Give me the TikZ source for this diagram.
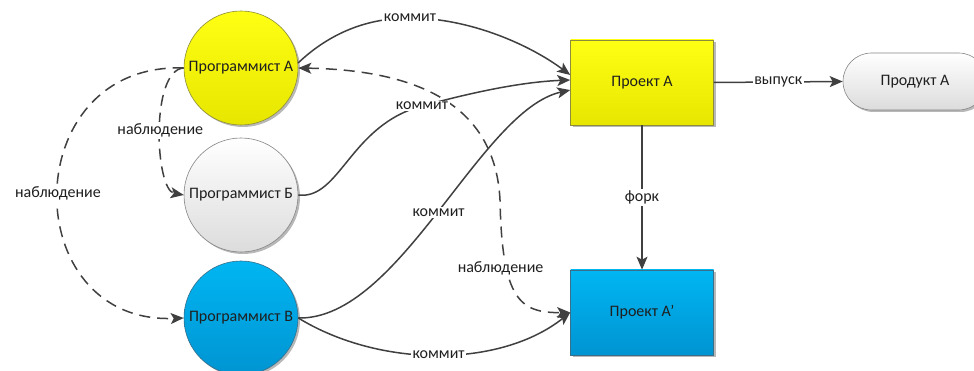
\documentclass[tikz,border=0pt]{standalone}
\usepackage{fontspec}
\setmainfont{Carlito}
\usetikzlibrary{arrows.meta,shadows}
\definecolor{ink}{HTML}{404040}
\definecolor{txt}{HTML}{1F1F1F}
\definecolor{yelTop}{HTML}{FFFF14}
\definecolor{yelBot}{HTML}{E6E600}
\definecolor{yelEdge}{HTML}{8C8C3C}
\definecolor{bluTop}{HTML}{00B6F2}
\definecolor{bluBot}{HTML}{0094D2}
\definecolor{bluEdge}{HTML}{3A6F8A}
\definecolor{gryTop}{HTML}{FFFFFF}
\definecolor{gryBot}{HTML}{DCDCDC}
\definecolor{gryEdge}{HTML}{858585}
\begin{document}
\begin{tikzpicture}[x=1pt,y=-1pt,
  every node/.style={font=\fontsize{16}{19}\selectfont, text=txt},
  soft shadow/.style={drop shadow={opacity=0.28,shadow xshift=2pt,shadow yshift=-2pt,fill=black}},
  dev/.style={circle, minimum size=114pt, inner sep=0pt, line width=0.6pt, soft shadow},
  proj/.style={rectangle, minimum width=143pt, minimum height=85pt, inner sep=0pt, line width=0.6pt, soft shadow},
  prod/.style={rectangle, rounded corners=28.5pt, minimum width=144pt, minimum height=57pt, inner sep=0pt,
    line width=0.6pt, draw=gryEdge, top color=gryTop, bottom color=gryBot, soft shadow},
  yellowfill/.style={draw=yelEdge, top color=yelTop, bottom color=yelBot},
  bluefill/.style={draw=bluEdge, top color=bluTop, bottom color=bluBot},
  greyfill/.style={draw=gryEdge, top color=gryTop, bottom color=gryBot},
  tip/.tip={Stealth[length=13pt,width=11pt,inset=3pt]},
  link/.style={draw=ink, line width=1.5pt, -tip},
  watch/.style={link, dash pattern=on 11pt off 7pt},
  lbl/.style={fill=white, inner sep=1.5pt}
]
\useasboundingbox (0,0) rectangle (974,371);

% developers
\node[dev, yellowfill] (devA) at (241,68) {Программист А};
\node[dev, greyfill]   (devB) at (241,195) {Программист Б};
\node[dev, bluefill]   (devV) at (241,318) {Программист В};

% projects and product
\node[proj, yellowfill] (projA)  at (642,82.5)  {Проект А};
\node[proj, bluefill]   (projA2) at (642,312.5) {Проект А’};
\node[prod]             (prodA)  at (915,81.5)  {Продукт А};

% observation links
\draw[watch] (devA.west) .. controls (150,70) and (155,190) .. (devB.west)
  node[lbl, pos=0.5] {наблюдение};
\draw[watch] (devA.west) .. controls (16,62) and (16,325) .. (devV.west)
  node[lbl, pos=0.5] {наблюдение};
\draw[watch, tip-tip] (devA.east) .. controls (410,70) and (495,100) .. (500,200)
  .. controls (502,300) and (520,313) .. (projA2.west)
  node[lbl, pos=0.3, xshift=-6pt] {наблюдение};

% commits
\draw[link] (devA.5) .. controls (335,28) and (375,18) .. (410,18)
  node[lbl] {коммит}
  .. controls (470,18) and (530,45) .. (projA.174);
\draw[link] (devB.east) .. controls (340,200) and (350,125) .. (422,106)
  node[lbl] {коммит}
  .. controls (470,93) and (520,82) .. (projA.178);
\draw[link] (devV.east) .. controls (400,320) and (480,110) .. (projA.186)
  node[lbl, pos=0.5] {коммит};
\draw[link] (devV.east) .. controls (380,368) and (500,368) .. (projA2.west)
  node[lbl, pos=0.5] {коммит};

% release and fork
\draw[link] (projA.east) -- node[lbl] {выпуск} (prodA.west);
\draw[link] (projA.south) -- node[lbl] {форк} (projA2.north);
\end{tikzpicture}
\end{document}
